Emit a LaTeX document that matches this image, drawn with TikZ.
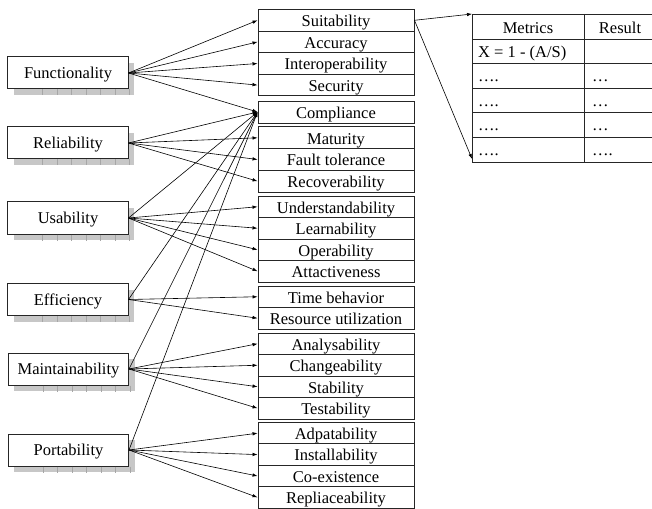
\documentclass[tikz,border=0pt]{standalone}
\usepackage{fontspec}
\setmainfont{Liberation Serif}
\usetikzlibrary{arrows.meta,shadows}
\begin{document}
\begin{tikzpicture}[x=1bp,y=-1bp,
  font=\fontsize{16.5bp}{18bp}\selectfont,
  lbox/.style={draw=black!85, line width=1bp, fill=white, minimum width=120bp,
    minimum height=32bp, inner sep=0pt, text height=11bp, text depth=0bp,
    drop shadow={shadow xshift=6bp, shadow yshift=-6bp, fill=black!22, opacity=1}},
  rbox/.style={draw=black!85, line width=0.9bp, minimum width=156bp, inner sep=0pt,
    text height=12.6bp, text depth=0bp},
  gridl/.style={draw=black!35, line width=0.4bp},
  conn/.style={line width=0.6bp, -{Latex[length=5bp,width=3.5bp]}},
  tline/.style={draw=black!85, line width=0.9bp},
  ttext/.style={anchor=base west, inner sep=0pt},
  thead/.style={anchor=base, inner sep=0pt},
]
\useasboundingbox (0,0) rectangle (652,509);

% left boxes
\node[lbox] (fun) at (68,73) {Functionality};
\node[lbox] (rel) at (68,143) {Reliability};
\node[lbox] (usa) at (68,218) {Usability};
\node[lbox] (eff) at (68,299.5) {Efficiency};
\node[lbox] (mai) at (68.5,369) {Maintainability};
\node[lbox] (por) at (68.5,450) {Portability};
\foreach \n in {fun,rel,usa,eff,mai,por}{
  \foreach \k in {35,49.5,...,123}
    \draw[gridl] ([xshift=\k bp]\n.south west) -- ++(0,6);
}

% right boxes
\begin{scope}[every node/.style={rbox}]
\node[minimum height=21.6bp] (suit) at (336,20.3) {Suitability};
\node[minimum height=21.6bp] (accu) at (336,41.9) {Accuracy};
\node[minimum height=21.6bp] (inte) at (336,63.5) {Interoperability};
\node[minimum height=21.6bp] (secu) at (336,85.1) {Security};
\node[minimum height=22bp] (comp) at (336,112) {Compliance};
\node[minimum height=21.7bp] (matu) at (336,137.8) {Maturity};
\node[minimum height=21.7bp] (faul) at (336,159.5) {Fault tolerance};
\node[minimum height=21.7bp] (reco) at (336,181.2) {Recoverability};
\node[minimum height=21.5bp] (unde) at (336,206.75) {Understandability};
\node[minimum height=21.5bp] (lear) at (336,228.25) {Learnability};
\node[minimum height=21.5bp] (oper) at (336,249.75) {Operability};
\node[minimum height=21.5bp] (attr) at (336,271.25) {Attactiveness};
\node[minimum height=21.5bp] (time) at (336,296.75) {Time behavior};
\node[minimum height=21.5bp] (reso) at (336,318.25) {Resource utilization};
\node[minimum height=21.5bp] (anal) at (336,343.75) {Analysability};
\node[minimum height=21.5bp] (chan) at (336,365.25) {Changeability};
\node[minimum height=21.5bp] (stab) at (336,386.75) {Stability};
\node[minimum height=21.5bp] (test) at (336,408.25) {Testability};
\node[minimum height=21.4bp] (adap) at (336,433.2) {Adpatability};
\node[minimum height=21.4bp] (inst) at (336,454.6) {Installability};
\node[minimum height=21.4bp] (coex) at (336,476) {Co-existence};
\node[minimum height=21.4bp] (repl) at (336,497.4) {Repliaceability};
\end{scope}

% connectors
\foreach \s/\t in {fun/suit,fun/accu,fun/inte,fun/secu,fun/comp,
  rel/comp,rel/matu,rel/faul,rel/reco,
  usa/comp,usa/unde,usa/lear,usa/oper,usa/attr,
  eff/comp,eff/time,eff/reso,
  mai/comp,mai/anal,mai/chan,mai/stab,mai/test,
  por/comp,por/adap,por/inst,por/coex,por/repl}
  \draw[conn] (\s.east) -- (\t.west);

% table
\node[tline, minimum width=184bp, minimum height=148bp, inner sep=0pt, anchor=north west] (tbl) at (472,14) {};
\foreach \y in {39,63,88,112,137}
  \draw[tline] (472,\y) -- (656,\y);
\draw[tline] (584,14) -- (584,162);
\node[thead] (hm) at (528,34) {Metrics};
\node[thead] (hr) at (620,34) {Result};
\node[ttext] (m1) at (478,58) {X = 1 - (A/S)};
\node[ttext] (m2) at (478,82) {….};
\node[ttext] (r2) at (592,82) {…};
\node[ttext] (m3) at (478,106.5) {….};
\node[ttext] (r3) at (592,106.5) {…};
\node[ttext] (m4) at (478,131) {….};
\node[ttext] (r4) at (592,131) {…};
\node[ttext] (m5) at (478,156) {….};
\node[ttext] (r5) at (592,156) {….};

\draw[conn] (suit.east) -- (tbl.north west);
\draw[conn] (suit.east) -- ([yshift=4bp]tbl.south west);
\end{tikzpicture}
\end{document}
